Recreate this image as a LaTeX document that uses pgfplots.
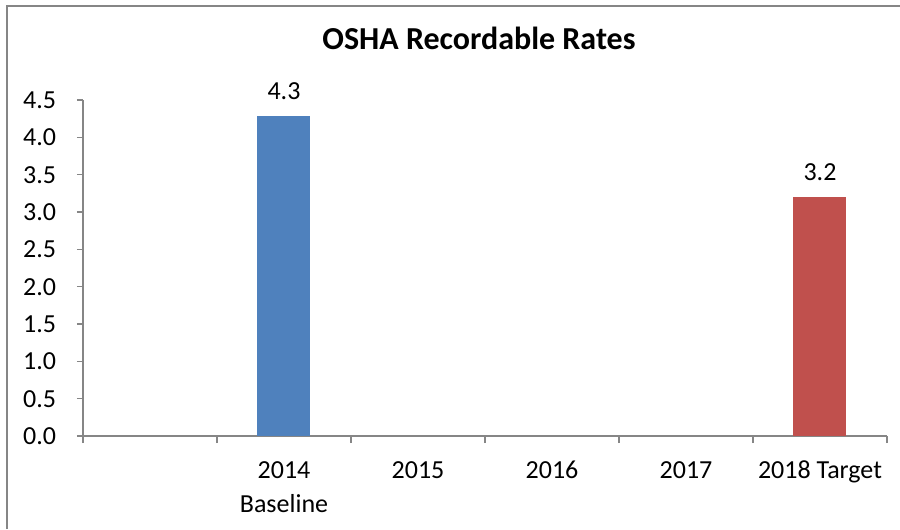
\documentclass[border=0pt]{standalone}
\usepackage{pgfplots}
\pgfplotsset{compat=1.18}
\usepackage{fontspec}
\setmainfont{Carlito}
\definecolor{barblue}{RGB}{79,129,189}
\definecolor{barred}{RGB}{192,80,77}
\definecolor{axgray}{RGB}{134,134,134}
\begin{document}
\begin{tikzpicture}
\useasboundingbox (0,0) rectangle (675pt,396.75pt);
\fill[white] (0,0) rectangle (675pt,396.75pt);
\draw[axgray, line width=1.5pt] (4.875pt,0) -- (4.875pt,392.25pt) -- (675pt,392.25pt);
\node[font=\fontsize{24}{28}\selectfont\bfseries, anchor=center] at (359.25pt,368.25pt) {OSHA Recordable Rates};
\begin{axis}[
  at={(62.25pt,69.75pt)}, anchor=south west,
  scale only axis, width=603pt, height=252pt,
  xmin=-0.5, xmax=5.5, ymin=0, ymax=4.5,
  axis lines=left, axis line style={-, axgray, line width=0.9pt},
  tick align=outside,
  tick style={axgray, line width=0.9pt},
  ytick={0,0.5,...,4.5},
  major tick length=4.5pt,
  minor tick length=5.25pt,
  xtick={1,2,3,4,5},
  xticklabels={{\strut 2014\\Baseline},{\strut 2015},{\strut 2016},{\strut 2017},{\strut 2018 Target}},
  major x tick style={draw=none},
  minor xtick={-0.5,0.5,1.5,2.5,3.5,4.5,5.5},
  xticklabel style={align=center, anchor=north, inner sep=0pt, yshift=-9pt, font=\fontsize{19.5}{25.5}\selectfont},
  yticklabel style={anchor=east, inner sep=0pt, xshift=-15.5pt, font=\fontsize{19.5}{24}\selectfont},
  /pgf/number format/.cd, fixed, fixed zerofill, precision=1, assume math mode=true,
  /pgfplots/.cd,
  ybar, bar width=39.75pt, bar shift=0pt,
  nodes near coords,
  every node near coord/.append style={anchor=base, inner sep=0pt, yshift=12.5pt, font=\fontsize{19.5}{24}\selectfont, text=black},
  clip=false,
]
\addplot[fill=barblue, draw=none] coordinates {(1,4.28)};
\addplot[fill=barred, draw=none] coordinates {(5,3.2)};
\end{axis}
\end{tikzpicture}
\end{document}
